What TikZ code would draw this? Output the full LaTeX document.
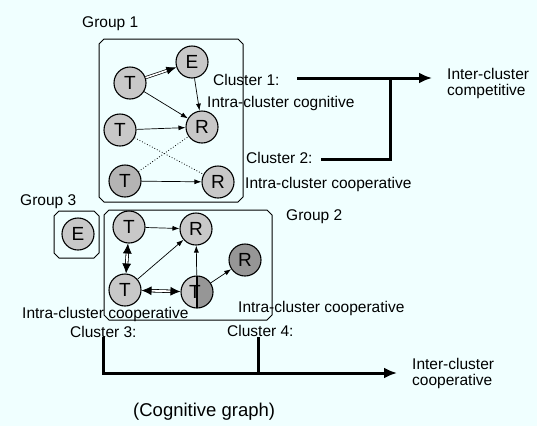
\documentclass[tikz,border=0pt]{standalone}
\usepackage{fontspec}
\setmainfont{Liberation Sans}
\usetikzlibrary{arrows.meta}
\definecolor{bg}{HTML}{F0FFFF}
\definecolor{lg}{HTML}{C8C8C8}
\definecolor{mg}{HTML}{B4B4B4}
\definecolor{dg}{HTML}{969696}
\newcommand\chamferbox[4]{\draw[grp] (#1+5,#2) -- (#3-5,#2) -- (#3,#2+5) -- (#3,#4-5) -- (#3-5,#4) -- (#1+5,#4) -- (#1,#4-5) -- (#1,#2+5) -- cycle;}
\begin{document}
\begin{tikzpicture}[x=1pt,y=-1pt,
 vtx/.style={circle,draw,line width=1.1pt,minimum size=32pt,inner sep=0pt,fill=lg,font=\fontsize{19}{19}\selectfont},
 grp/.style={draw,line width=1pt},
 lbl/.style={anchor=base west,inner sep=0pt,font=\fontsize{15.5}{16}\selectfont},
 arr/.style={-{Latex[length=7pt,width=5pt]},line width=0.7pt},
 dotl/.style={dotted,line width=0.8pt},
 dbl/.style={double,double distance=1.6pt,line width=0.7pt,-{Latex[length=10pt,width=8pt]}},
 dbl2/.style={double,double distance=1.8pt,line width=0.8pt,{Latex[length=10pt,width=9pt]}-{Latex[length=10pt,width=9pt]}},
 bus/.style={line width=3pt},
 busarr/.style={line width=3pt,-{Latex[length=13pt,width=11pt]}}
]
\fill[bg] (0,0) rectangle (537,426);
\useasboundingbox (0,0) rectangle (537,426);

% Group boxes
\chamferbox{99}{39}{243}{202}
\chamferbox{54}{211}{99}{258}
\chamferbox{104}{210}{272}{320}

% Group 1
\node[vtx] (t1) at (130,83) {T};
\node[vtx] (e1) at (192,62) {E};
\node[vtx] (r1) at (202,127) {R};
\node[vtx] (t2) at (120,130) {T};
\node[vtx,fill=mg] (t3) at (125,181) {T};
\node[vtx] (r2) at (218,182) {R};
\draw[dbl] (t1) -- (e1);
\draw[arr] (t1) -- (r1);
\draw[arr] (e1) -- (r1);
\draw[arr] (t2) -- (r1);
\draw[arr] (t3) -- (r2);
\draw[dotl] (t2) -- (r2);
\draw[dotl] (t3) -- (r1);

% Group 3
\node[vtx] (e3) at (78,234) {E};

% Group 2
\node[vtx] (ta) at (129,227) {T};
\node[vtx] (ra) at (196,229) {R};
\node[vtx] (tb) at (125,290) {T};
\node[vtx,path picture={\fill[dg] (path picture bounding box.north) rectangle (path picture bounding box.south east);
  \draw[line width=1.1pt] (path picture bounding box.north) -- (path picture bounding box.south);}] (ts) at (197,292) {};
\node[font=\fontsize{19}{19}\selectfont,inner sep=0pt] (tsl) at (195,292) {T};
\node[vtx,fill=dg] (rd) at (245,260) {R};
\draw[arr] (ta) -- (ra);
\draw[arr] (tb) -- (ra);
\draw[arr] (ts) -- (ra);
\draw[arr] (ts) -- (rd);
\draw[dbl2] (ta) -- (tb);
\draw[dbl2] (tb) -- (ts);

% Labels
\node[lbl] (g1) at (82,27) {Group 1};
\node[lbl] (g3) at (20,205) {Group 3};
\node[lbl] (g2) at (286,220) {Group 2};
\node[lbl] (c1) at (213,85) {Cluster 1:};
\node[lbl] (ic1) at (207,107) {Intra-cluster cognitive};
\node[lbl] (c2) at (246,163) {Cluster 2:};
\node[lbl] (ic2) at (245,188) {Intra-cluster cooperative};
\node[lbl] (ic3) at (22,318) {Intra-cluster cooperative};
\node[lbl] (c3) at (70,337) {Cluster 3:};
\node[lbl] (ic4) at (238,312) {Intra-cluster cooperative};
\node[lbl] (c4) at (227,336) {Cluster 4:};
\node[lbl,align=left,anchor=north west] (comp) at (447,68) {Inter-cluster\\competitive};
\node[lbl,align=left,anchor=north west] (coop) at (412,358) {Inter-cluster\\cooperative};
\node[lbl,font=\fontsize{18.5}{19}\selectfont] (cap) at (133,416) {(Cognitive graph)};

% Buses
\coordinate (a1) at (297,78);
\coordinate (a2) at (390,78);
\coordinate (a3) at (432,78);
\coordinate (b1) at (321,159);
\coordinate (b2) at (390,159);
\draw[bus] (a1) -- (a2);
\draw[bus] (b1) -- (b2) -- (a2);
\draw[busarr] (a2) -- (a3);
\coordinate (d1) at (103,337);
\coordinate (d2) at (103,373);
\coordinate (d3) at (258,337);
\coordinate (d4) at (258,373);
\coordinate (d5) at (397,373);
\draw[bus] (d1) -- (d2) -- (d4);
\draw[bus] (d3) -- (d4);
\draw[busarr] (d4) -- (d5);
\end{tikzpicture}
\end{document}
